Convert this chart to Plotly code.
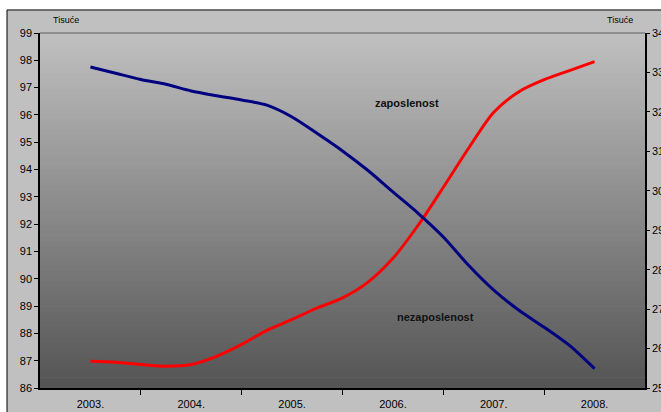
import plotly.graph_objects as go

# ---- data ----
years = ["2003.", "2004.", "2005.", "2006.", "2007.", "2008."]
quarters = [i * 0.25 for i in range(21)]  # position along year axis (quarterly)

# zaposlenost (red, left axis, thousands)
zaposlenost = [86.98, 86.94, 86.86, 86.80, 86.86, 87.16, 87.60, 88.11, 88.51,
               88.93, 89.30, 89.87, 90.75, 91.96, 93.35, 94.78, 96.10, 96.85,
               97.29, 97.62, 97.95]
# nezaposlenost (blue, right axis, thousands)
nezaposlenost = [331.4, 329.8, 328.2, 327.0, 325.3, 324.1, 323.0, 321.7, 318.7,
                 314.5, 310.1, 305.2, 299.7, 294.3, 288.3, 281.1, 274.8, 269.7,
                 265.4, 260.8, 254.9]

left_ticks = list(range(86, 100))
right_ticks = list(range(250, 341, 10))

FONT = "Liberation Sans, Arial, sans-serif"

fig = go.Figure()
fig.add_trace(go.Scatter(x=quarters, y=zaposlenost, mode="lines",
                         line=dict(color="#ff0000", width=3, shape="spline", smoothing=0.8),
                         name="zaposlenost", yaxis="y"))
fig.add_trace(go.Scatter(x=quarters, y=nezaposlenost, mode="lines",
                         line=dict(color="#000080", width=3, shape="spline", smoothing=0.8),
                         name="nezaposlenost", yaxis="y2"))

# background shapes
shapes = []
shapes.append(dict(type="rect", xref="paper", yref="paper", x0=-0.0545, x1=1.1,
                   y0=-0.2, y1=1.0649, fillcolor="#c0c0c0",
                   line=dict(color="black", width=1), layer="below"))
N = 70
top = (192, 192, 192)
bot = (84, 84, 84)
for i in range(N):
    f = (i + 0.5) / N
    c = tuple(int(round(bot[k] + (top[k] - bot[k]) * f)) for k in range(3))
    shapes.append(dict(type="rect", xref="paper", yref="paper", x0=0, x1=1,
                       y0=i / N, y1=(i + 1) / N + 0.002,
                       fillcolor="rgb(%d,%d,%d)" % c, line=dict(width=0), layer="below"))
shapes.append(dict(type="line", xref="paper", yref="paper", x0=0, x1=1, y0=1, y1=1,
                   line=dict(color="#808080", width=1.5), layer="below"))

annotations = [
    dict(text="zaposlenost", x=3.14, y=96.44, xref="x", yref="y", showarrow=False,
         font=dict(family=FONT, size=11, color="#111111", weight="bold")),
    dict(text="nezaposlenost", x=3.42, y=88.6, xref="x", yref="y", showarrow=False,
         font=dict(family=FONT, size=11, color="#111111", weight="bold")),
    dict(text="Tisuće", x=0.043, y=1.037, xref="paper", yref="paper", showarrow=False,
         xanchor="center", yanchor="middle",
         font=dict(family=FONT, size=9, color="black")),
    dict(text="Tisuće", x=0.959, y=1.037, xref="paper", yref="paper", showarrow=False,
         xanchor="center", yanchor="middle",
         font=dict(family=FONT, size=9, color="black")),
]

fig.update_layout(
    width=661, height=412,
    margin=dict(l=40, r=16, t=33, b=24, pad=0, autoexpand=False),
    paper_bgcolor="white",
    plot_bgcolor="rgba(0,0,0,0)",
    showlegend=False,
    shapes=shapes,
    annotations=annotations,
    font=dict(family=FONT, size=11, color="black"),
    xaxis=dict(range=[-0.5, 5.5], tickmode="array", tickvals=list(range(6)), ticktext=years,
               ticks="outside", ticklen=5, tickcolor="rgba(0,0,0,0)", automargin=False,
               showgrid=False, zeroline=False, showline=True, linecolor="black", linewidth=1.5,
               tickfont=dict(size=11),
               minor=dict(tickmode="array", tickvals=[0.5, 1.5, 2.5, 3.5, 4.5],
                          ticks="outside", ticklen=5, tickcolor="black", tickwidth=1, showgrid=False)),
    yaxis=dict(range=[86, 99], tickmode="array", tickvals=left_ticks, automargin=False,
               ticks="outside", ticklen=4, tickcolor="black", tickwidth=1,
               showgrid=False, zeroline=False, showline=True, linecolor="black", linewidth=1.5,
               tickfont=dict(size=11)),
    yaxis2=dict(range=[250, 340], tickmode="array", tickvals=right_ticks, overlaying="y",
                side="right", ticks="outside", ticklen=3, tickcolor="black", tickwidth=1,
                automargin=False,
                showgrid=False, zeroline=False, showline=True, linecolor="black", linewidth=1.5,
                tickfont=dict(size=11)),
)

fig.write_html(
    "out.html",
    config={"displayModeBar": False},
    post_script=(
        "document.body.style.margin='0';"
        "document.body.style.overflow='hidden';"
        "document.documentElement.style.overflow='hidden';"
    ),
)
